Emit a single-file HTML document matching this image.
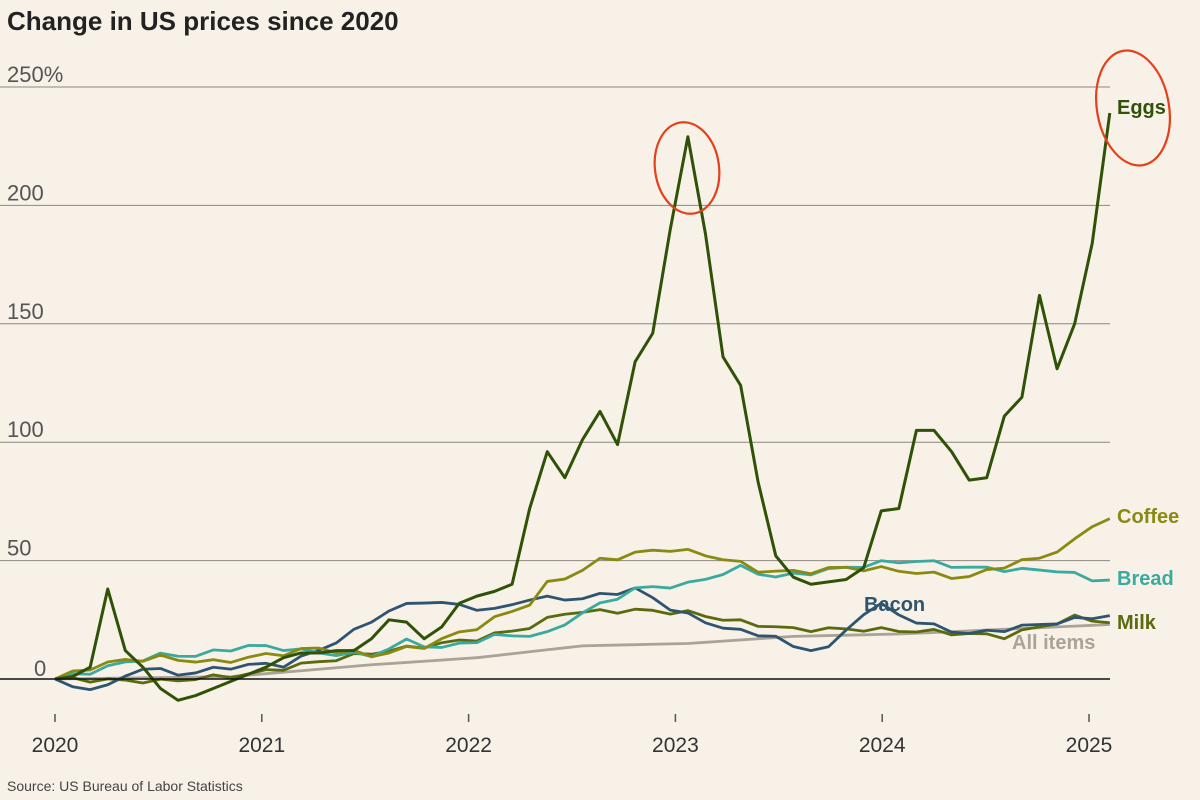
<!DOCTYPE html>
<html><head><meta charset="utf-8"><style>
body{margin:0;background:#f7f1e7;}
svg{display:block;font-family:"Liberation Sans",sans-serif;}
</style></head><body>
<svg id="c" width="1200" height="800" viewBox="0 0 1200 800">
<rect width="1200" height="800" fill="#f7f1e7"/>
<text x="7" y="30" font-size="26" font-weight="bold" fill="#222">Change in US prices since 2020</text>
<g id="grid"></g>
<g id="lines"></g>
<ellipse cx="687" cy="168" rx="32" ry="46" fill="none" stroke="#e5401b" stroke-width="2.2" transform="rotate(-8 687 168)"/>
<ellipse cx="1133" cy="108" rx="36" ry="58" fill="none" stroke="#e5401b" stroke-width="2.2" transform="rotate(-10 1133 108)"/>
<g font-size="20" font-weight="bold">
<text x="1117" y="114" fill="#2f5208">Eggs</text>
<text x="1117" y="523" fill="#8a8a12">Coffee</text>
<text x="1117" y="585" fill="#3aaaa0">Bread</text>
<text x="864" y="611" fill="#2f5470">Bacon</text>
<text x="1117" y="629" fill="#5a6b0f">Milk</text>
<text x="1012" y="649" fill="#aaa497">All items</text>
</g>
<text x="7" y="791" font-size="14" fill="#444">Source: US Bureau of Labor Statistics</text>
</svg>
<script>
const NS="http://www.w3.org/2000/svg";
function el(t,a,p,txt){const e=document.createElementNS(NS,t);for(const k in a)e.setAttribute(k,a[k]);if(txt!==undefined)e.textContent=txt;p.appendChild(e);return e;}
const g=document.getElementById('grid'),L=document.getElementById('lines');
const Y=v=>679-v*2.368, X=i=>55+i*17.58;
[[250,"250%"],[200,"200"],[150,"150"],[100,"100"],[50,"50"]].forEach(([v,t])=>{
 el('line',{x1:0,x2:1110,y1:Y(v),y2:Y(v),stroke:"#8c8880","stroke-width":1},g);
 el('text',{x:7,y:Y(v)-5,"font-size":22,fill:"#555"},g,t);});
el('text',{x:34,y:Y(0)-3,"font-size":22,fill:"#555"},g,"0");
[2020,2021,2022,2023,2024,2025].forEach((yr,k)=>{const x=55+k*206.8;
 el('line',{x1:x,x2:x,y1:714,y2:722,stroke:"#555","stroke-width":1.5},g);
 el('text',{x:x,y:752,"font-size":21,fill:"#333","text-anchor":"middle"},g,yr);});
function interp(kp){const out=[];for(let i=0;i<61;i++){let j=0;while(j<kp.length-2&&kp[j+1][0]<i)j++;const[a,va]=kp[j],[b,vb]=kp[j+1];out.push(va+(vb-va)*Math.max(0,Math.min(1,(i-a)/(b-a))));}return out;}
function wig(arr,amp){return arr.map((v,i)=>v+amp*Math.sin(i*2.3)*(i>0?1:0));}
function draw(vals,col,w){el('polyline',{points:vals.map((v,i)=>X(i)+","+Y(v)).join(" "),fill:"none",stroke:col,"stroke-width":w||2.8,"stroke-linejoin":"round"},L);}
const all=interp([[0,0],[10,1],[18,6],[24,9],[30,14],[36,15],[42,18],[48,19],[54,21],[60,23]]);
draw(all,"#aaa497");
const milk=wig(interp([[0,0],[6,-1],[11,2],[14,6],[18,11],[24,17],[27,22],[29,28],[33,29],[36,28],[39,24],[42,21],[46,21],[50,20],[54,18],[58,26],[60,24]]),1);
draw(milk,"#5a6b0f");
const bacon=wig(interp([[0,0],[1,-4],[3,-3],[5,5],[7,2],[11,6],[13,6],[15,12],[17,20],[19,29],[21,33],[23,31],[25,29],[27,34],[30,34],[33,38],[35,30],[37,24],[39,20],[41,18],[42,13],[44,13],[46,28],[47,31],[49,24],[52,19],[55,22],[57,24],[60,27]]),1);
draw(bacon,"#2f5470");
const bread=wig(interp([[0,0],[2,3],[4,7],[6,10],[8,10],[11,14],[13,13],[15,11],[18,10],[20,16],[22,13],[25,18],[28,19],[30,28],[33,38],[36,40],[39,47],[41,43],[44,46],[47,49],[49,50],[52,47],[55,46],[57,46],[59,42],[60,42]]),1);
draw(bread,"#3aaaa0");
const coffee=wig(interp([[0,0],[2,5],[4,8],[6,9],[9,7],[12,10],[15,13],[18,10],[21,14],[24,22],[27,32],[28,40],[30,46],[31,50],[33,53],[35,55],[38,51],[40,46],[42,45],[45,47],[48,46],[50,44],[52,43],[54,48],[56,51],[58,58],[59,65],[60,68]]),1.2);
draw(coffee,"#8a8a12");
const eggs=[0,1,5,38,12,5,-4,-9,-7,-4,-1,2,5,9,11,11,12,12,17,25,24,17,22,32,35,37,40,72,96,85,101,113,99,134,146,190,229,188,136,124,83,52,43,40,41,42,47,71,72,105,105,96,84,85,111,119,162,131,150,184,239];
draw(eggs,"#2f5208",3);
el('line',{x1:0,x2:1110,y1:679,y2:679,stroke:"#111","stroke-width":1.5},L);
</script>
</body></html>
